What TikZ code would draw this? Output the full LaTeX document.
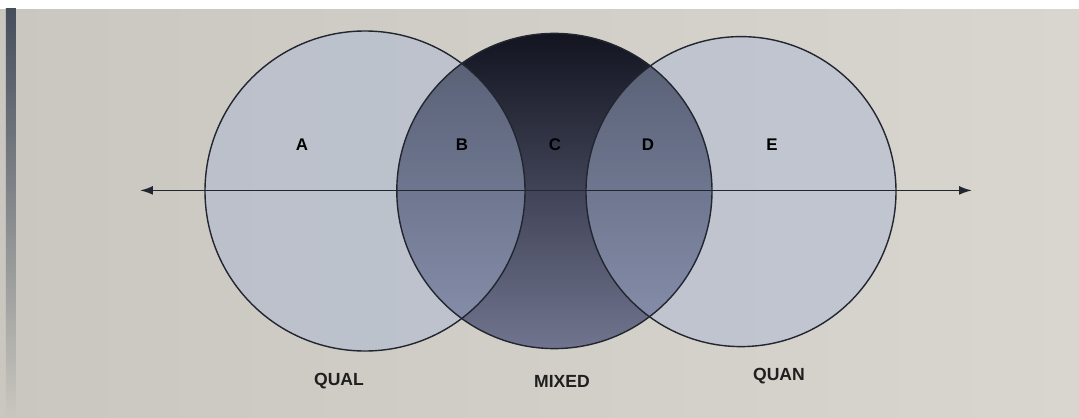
\documentclass[tikz,border=0pt]{standalone}
\usepackage{fontspec}
\setmainfont{Liberation Sans}
\usepackage{xcolor}
\usetikzlibrary{arrows.meta}
\definecolor{paper}{RGB}{201,199,191}
\definecolor{paperlight}{RGB}{216,214,206}
\definecolor{edgeband}{RGB}{70,78,92}
\definecolor{ringline}{RGB}{34,38,48}
\definecolor{sidefill}{RGB}{168,182,214}
\definecolor{midtop}{RGB}{18,20,32}
\definecolor{midbottom}{RGB}{112,116,142}

\begin{document}
\begin{tikzpicture}[x=1cm,y=1cm]
\useasboundingbox (0,0) rectangle (26.975,-10.45);
% paper
\shade[left color=paper,right color=paperlight] (0,0) rectangle (26.975,-10.45);
\fill[white] (0,0) rectangle (26.975,-0.22);
\shade[top color=edgeband,bottom color=paper] (0.15,-0.22) rectangle (0.4,-10.45);
% circle centres
\coordinate (qual) at (9.125,-4.775);
\coordinate (mixed) at (13.86,-4.775);
\coordinate (quan) at (18.525,-4.79);
% middle circle first, the side circles lie over it
\shade[top color=midtop,bottom color=midbottom] (mixed) circle (3.94);
\fill[sidefill,opacity=0.45] (qual) circle (4.0);
\fill[sidefill,opacity=0.45] (quan) circle (3.875);
\draw[ringline,line width=1pt] (qual) circle (4.0);
\draw[ringline,line width=1pt] (mixed) circle (3.94);
\draw[ringline,line width=1pt] (quan) circle (3.875);
% axis
\coordinate (lend) at (3.5,-4.76);
\coordinate (rend) at (24.3,-4.76);
\draw[ringline,line width=1.2pt,{Latex[length=3.2mm,width=2.2mm]}-{Latex[length=3.2mm,width=2.2mm]}] (lend) -- (rend);
% region letters
\node[font=\bfseries\fontsize{12}{14}\selectfont] (a) at (7.55,-3.62) {A};
\node[font=\bfseries\fontsize{12}{14}\selectfont] (b) at (11.55,-3.62) {B};
\node[font=\bfseries\fontsize{12}{14}\selectfont] (c) at (13.875,-3.62) {C};
\node[font=\bfseries\fontsize{12}{14}\selectfont] (d) at (16.2,-3.62) {D};
\node[font=\bfseries\fontsize{12}{14}\selectfont] (e) at (19.3,-3.62) {E};
% names
\node[font=\bfseries\fontsize{12.5}{14}\selectfont,text=black!88] (qualname) at (8.475,-9.525) {QUAL};
\node[font=\bfseries\fontsize{12.5}{14}\selectfont,text=black!88] (mixedname) at (14.05,-9.525) {MIXED};
\node[font=\bfseries\fontsize{12.5}{14}\selectfont,text=black!88] (quanname) at (19.475,-9.4) {QUAN};
\end{tikzpicture}
\end{document}
